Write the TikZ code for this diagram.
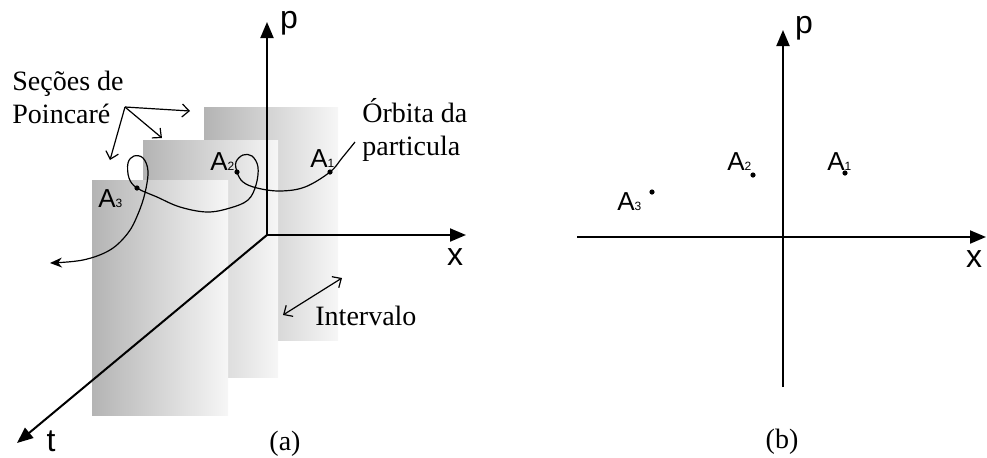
\documentclass[tikz,border=0pt]{standalone}
\usepackage{fontspec}
\setmainfont{Liberation Serif}
\newfontfamily\arial{Liberation Sans}
\usetikzlibrary{positioning,arrows.meta}
\definecolor{painelesc}{HTML}{B4B4B4}
\definecolor{painelmeio}{HTML}{E2E2E2}
\definecolor{painelclaro}{HTML}{F6F6F6}
\newcommand{\indice}[1]{{\fontsize{6}{6}\selectfont #1}}

\begin{document}
\begin{tikzpicture}[x=0.5pt, y=-0.5pt, font=\fontsize{14}{16.5}\selectfont,
    eixo/.style={line width=1pt, -{Triangle[length=8pt,width=6.5pt]}},
    seta/.style={line width=0.6pt, -{Straight Barb[length=3.5pt,width=6.5pt]}},
    rotulo/.style={font=\arial\fontsize{13}{13}\selectfont, inner sep=0pt, anchor=base west},
    eixonome/.style={font=\arial\fontsize{16}{16}\selectfont, inner sep=0pt, anchor=base},
    texto/.style={inner sep=0pt, anchor=base west, align=left},
    ponto/.style={circle, fill, inner sep=0pt, minimum size=2.6pt},
    painel/.style={left color=painelesc, middle color=painelmeio, right color=painelclaro}]
  \useasboundingbox (0,0) rectangle (987,457);

  % (a) secoes, de tras para a frente
  \shade[painel] (204,107) rectangle (338,340);
  \shade[painel] (143,140) rectangle (278,377);
  \shade[painel] (92,180) rectangle (228,415);

  \coordinate (O) at (267,235);
  \coordinate (ptopo) at (267,22);
  \coordinate (xfim) at (466,235);
  \coordinate (tfim) at (17,443);
  \draw[eixo] (O) -- (ptopo);
  \draw[eixo] (O) -- (xfim);
  \draw[eixo] (O) -- (tfim);
  \node[eixonome] (pa) at (289,28) {p};
  \node[eixonome] (xa) at (455,265) {x};
  \node[eixonome] (ta) at (51,451) {t};

  % orbita
  \coordinate (A1) at (330,172);
  \coordinate (A2) at (237,172);
  \coordinate (A3) at (137,188);
  \coordinate (inicio) at (355,142);
  \coordinate (fim) at (50,263);
  \draw[line width=0.6pt, -{Stealth[length=6pt,width=5pt]}] plot[smooth, tension=0.6] coordinates {(inicio) (342,158) (A1) (305,187) (280,191) (257,188) (243,182) (A2) (236,162) (243,155) (252,156) (258,167) (256,185) (248,200) (230,208) (207,212) (180,207) (157,197) (A3) (129,178) (128,163) (134,156) (143,158) (148,171) (145,193) (138,214) (128,233) (110,250) (83,260) (fim)};
  \foreach \p in {A1,A2,A3} \node[ponto] at (\p) {};
  \node[rotulo] (la1) at (310,167) {A\indice{1}};
  \node[rotulo] (la2) at (210,170) {A\indice{2}};
  \node[rotulo] (la3) at (98,207) {A\indice{3}};

  \node[texto] (secoes) at (12,123) {Seções de\\Poincaré};
  \coordinate (raiz) at (125,107);
  \draw[seta] (raiz) -- (190,111);
  \draw[seta] (raiz) -- (162,138);
  \draw[seta] (raiz) -- (110,160);
  \node[texto] (orbita) at (362,155) {Órbita da\\particula};
  \node[texto] (intervalo) at (315,325) {Intervalo};
  \coordinate (i1) at (283,315);
  \coordinate (i2) at (342,278);
  \draw[line width=0.6pt, {Straight Barb[length=3.5pt,width=6.5pt]}-{Straight Barb[length=3.5pt,width=6.5pt]}] (i1) -- (i2);
  \node[inner sep=0pt, anchor=base] (a) at (285,450) {(a)};

  % (b) plano de fase
  \coordinate (Ob) at (783,237);
  \coordinate (xesq) at (577,237);
  \coordinate (xdir) at (986,237);
  \coordinate (pbase) at (783,387);
  \coordinate (pcima) at (783,30);
  \draw[eixo] (xesq) -- (xdir);
  \draw[eixo] (pbase) -- (pcima);
  \node[eixonome] (pb) at (804,33) {p};
  \node[eixonome] (xb) at (974,267) {x};
  \node[ponto] (B1) at (845,173) {};
  \node[ponto] (B2) at (753,175) {};
  \node[ponto] (B3) at (652,192) {};
  \node[rotulo] (lb1) at (827,170) {A\indice{1}};
  \node[rotulo] (lb2) at (727,170) {A\indice{2}};
  \node[rotulo] (lb3) at (617,210) {A\indice{3}};
  \node[inner sep=0pt, anchor=base] (b) at (782,448) {(b)};
\end{tikzpicture}
\end{document}
